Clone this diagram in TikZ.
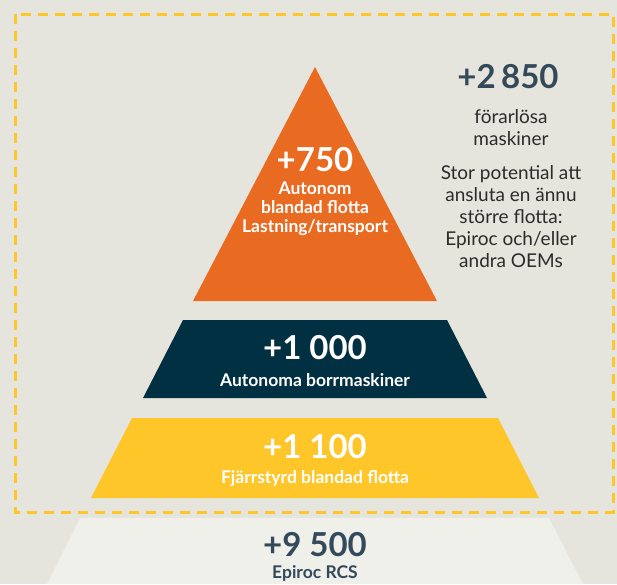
\documentclass[tikz,border=0pt]{standalone}
\usepackage{fontspec}
\setmainfont{Lato}
\definecolor{bgcol}{HTML}{E6E5DD}
\definecolor{orangecol}{HTML}{E96B22}
\definecolor{navycol}{HTML}{023043}
\definecolor{yellowcol}{HTML}{FFC629}
\definecolor{basecol}{HTML}{EFF0EA}
\definecolor{slatecol}{HTML}{34495A}
\definecolor{textcol}{HTML}{2B2B2B}
\tikzset{
  bignum/.style={font=\fontsize{33}{33}\selectfont\bfseries, inner sep=0pt},
  tierlabel/.style={font=\fontsize{17.5}{19}\selectfont\bfseries, align=center, inner sep=0pt},
  sidetext/.style={font=\fontsize{19}{22}\selectfont, text=textcol, align=center, inner sep=0pt}
}
\begin{document}
\begin{tikzpicture}[x=1pt,y=-1pt]

\fill[bgcol] (0,0) rectangle (617,584);
\useasboundingbox (0,0) rectangle (617,584);

% pyramid
\fill[basecol] (80,518) -- (549,518) -- (583,584) -- (47,584) -- cycle;
\fill[yellowcol] (132,418) -- (498,418) -- (539,498) -- (91,498) -- cycle;
\fill[navycol] (183,320) -- (447,320) -- (487,398) -- (143,398) -- cycle;
\fill[orangecol] (315,67) -- (437,301) -- (193,301) -- cycle;

% dashed frame
\draw[yellowcol, line width=3pt, dash pattern=on 10pt off 7pt] (15,14) rectangle (613,512);

% tier texts
\draw (315,160) node[bignum, text=white] (n750) {+750};
\draw (315,209) node[tierlabel, text=white] (l750) {Autonom\\blandad flotta\\Lastning/transport};
\draw (315,348) node[bignum, text=white] (n1000) {+1 000};
\draw (315,380) node[tierlabel, text=white] (l1000) {Autonoma borrmaskiner};
\draw (315,447) node[bignum, text=white] (n1100) {+1 100};
\draw (315,479) node[tierlabel, text=white] (l1100) {Fjärrstyrd blandad flotta};
\draw (315,545) node[bignum, text=slatecol] (n9500) {+9 500};
\draw (315,573) node[tierlabel, text=slatecol] (l9500) {Epiroc RCS};

% side note
\draw (508,77) node[bignum, text=slatecol] (n2850) {+2\,850};
\draw (511,128) node[sidetext] (l2850) {förarlösa\\maskiner};
\draw (511,217) node[sidetext] (note) {Stor potential att\\ansluta en ännu\\större flotta:\\Epiroc och/eller\\andra OEMs};

\end{tikzpicture}
\end{document}
